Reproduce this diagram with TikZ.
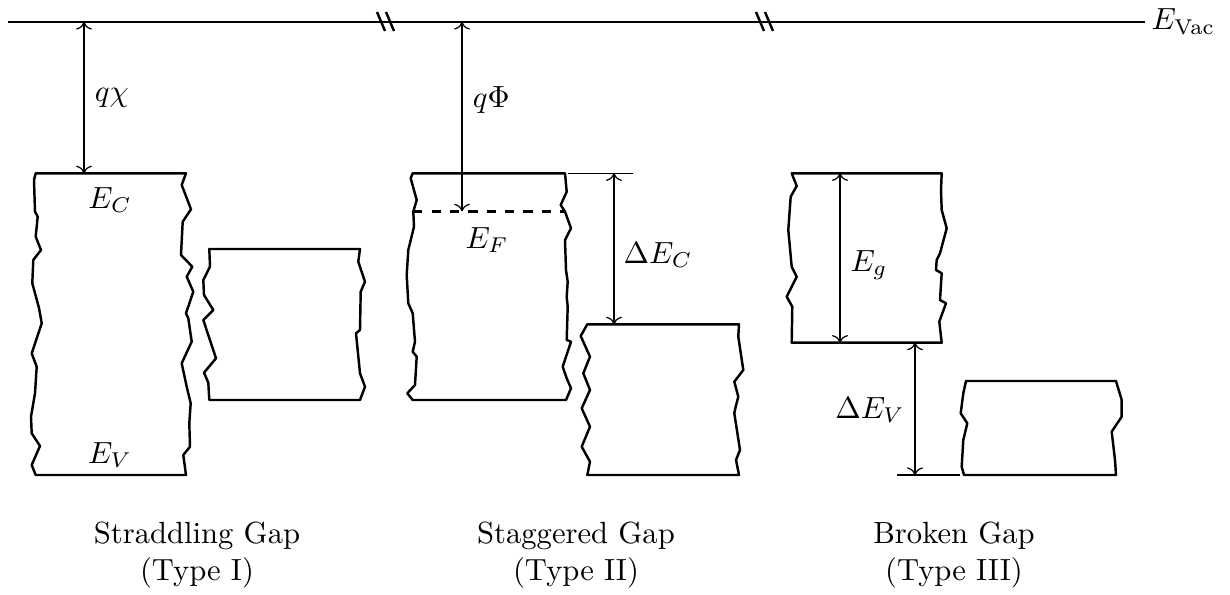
\documentclass[tikz,border=0pt]{standalone}
\usepackage{amsmath,amssymb}
\usepackage{tikz}
\usetikzlibrary{arrows.meta}

\begin{document}
\begin{tikzpicture}[
  x=0.3267pt, y=-0.3267pt,
  band/.style={thick, line join=round},
  vac/.style={thick},
  brk/.style={thick},
  gap/.style={<->, thin},
  ref/.style={thin},
  fermi/.style={thick, dashed},
  caption/.style={align=center}
]
\useasboundingbox (0,0) rectangle (1230,595);

% vacuum level
\coordinate (vacL) at (8,22);
\coordinate (vacR) at (1145,22);
\draw[vac] (vacL) -- (vacR);
\draw[brk] (377,12) -- (385,31) (386,12) -- (394,31);
\draw[brk] (756,12) -- (764,31) (765,12) -- (773,31);
\node[anchor=west, inner sep=2pt] (evac) at (vacR) {$E_{\text{Vac}}$};

% type I
\draw[band] (35.7,173.3) -- (186,173.3) -- (181.7,185) -- (191,209.3) -- (182.7,221.7) -- (181,255) -- (192.3,266.7) -- (186.7,276.7) -- (193.3,291.7) -- (186,313.3) -- (188.3,318.3) -- (191.7,341.7) -- (181.7,363.3) -- (186.7,386.7) -- (190.7,403.3) -- (189.3,423.3) -- (190,446.7) -- (183.3,455) -- (186,475)
  -- (35.7,475) -- (31.7,465) -- (40,446) -- (31.7,433.3) -- (31,416.7) -- (35,393.3) -- (36.7,366.7) -- (31.7,353.3) -- (41.7,323.3) -- (39,308) -- (32.3,283.3) -- (33.3,260) -- (41,250) -- (35.7,236.7) -- (37.7,216.7) -- (35,211.7) -- (34,180) -- cycle;
\draw[band] (209.3,249) -- (360,249) -- (358.3,261.7) -- (365,281.7) -- (360.7,291.7) -- (360,330) -- (356,333.3) -- (360,373.3) -- (365,386.7) -- (360,400)
  -- (209.3,400) -- (208.3,382.7) -- (204,372.7) -- (216,358.3) -- (203.3,320) -- (213.3,310) -- (204,295) -- (203.3,280) -- (210,266.7) -- cycle;
\coordinate (chiTop) at (84,22);
\coordinate (chiBot) at (84,173.3);
\draw[gap] (chiTop) -- (chiBot) node[midway, right=0pt] (qchi) {$q\chi$};
\node (ec) at (110,200) {$E_C$};
\node (ev) at (110,455) {$E_V$};
\node[caption] (cap1) at (197,555) {Straddling Gap\\(Type I)};

% type II
\draw[band] (412.7,173.3) -- (565,173.3) -- (566.7,191.7) -- (560.7,205) -- (565,211.7) -- (571,228.3) -- (565,240) -- (566,270) -- (567.7,281.7) -- (566.7,296.7) -- (567.7,306.7) -- (566.7,340) -- (571,341.7) -- (562.7,366.7) -- (566.7,378.3) -- (571,388.3) -- (566,400)
  -- (412.7,400) -- (407.3,393.3) -- (415,385) -- (416.7,356.7) -- (412.7,351.7) -- (415,341.7) -- (412.7,313.3) -- (408.3,303.3) -- (406.7,275) -- (408.3,250) -- (414,226.7) -- (413.3,211.7) -- (416.7,200) -- (410.7,178.3) -- cycle;
\coordinate (efL) at (413.3,211.3);
\coordinate (efR) at (565,211.3);
\draw[fermi] (efL) -- (efR);
\coordinate (phiTop) at (462,22);
\coordinate (phiBot) at (462,211.3);
\draw[gap] (phiTop) -- (phiBot) node[pos=0.41, right=0pt] (qphi) {$q\Phi$};
\node (ef) at (487,240) {$E_F$};
\draw[band] (587.3,324.3) -- (739,324.3) -- (738.3,336.7) -- (743.3,370) -- (734.3,381.7) -- (738.3,396.7) -- (735.7,406.7) -- (734.3,413.3) -- (740,450) -- (736,460) -- (739,475)
  -- (587.3,475) -- (590,461.7) -- (581.7,446.7) -- (590,426.7) -- (581.7,408.3) -- (590,390) -- (583.3,373.3) -- (590,356.7) -- (580.7,336) -- cycle;
\coordinate (dcTop) at (614,173.3);
\coordinate (dcBot) at (614,324.3);
\draw[ref] (568,173.3) -- (633,173.3);
\draw[gap] (dcTop) -- (dcBot);
\node (dec) at (658,255) {$\Delta E_C$};
\node[caption] (cap2) at (576,555) {Staggered Gap\\(Type II)};

% type III
\draw[band] (791.7,173.3) -- (941.7,173.3) -- (941,190) -- (941.7,210) -- (946.7,228.3) -- (940,253.3) -- (936.7,260) -- (936,270) -- (941.7,273.3) -- (940,300) -- (946,303.3) -- (939.3,321.7) -- (941.7,342.7)
  -- (791.7,342.7) -- (792.3,306.7) -- (786.7,296.7) -- (796.7,276.7) -- (791.7,266.7) -- (788.3,230) -- (790.7,196.7) -- (796.7,186) -- cycle;
\draw[band] (966,381) -- (1116,381) -- (1121.7,400) -- (1121.7,416.7) -- (1111.7,431.7) -- (1115,460) -- (1116,475)
  -- (964,475) -- (961.7,466.7) -- (963.3,440) -- (967.3,423.3) -- (960.7,413.3) -- (963.3,393.3) -- cycle;
\coordinate (egTop) at (840,173.3);
\coordinate (egBot) at (840,342.7);
\draw[gap] (egTop) -- (egBot);
\node (eg) at (869,265) {$E_g$};
\coordinate (dvTop) at (915,342.7);
\coordinate (dvBot) at (915,475);
\draw[ref] (897,475) -- (960,475);
\draw[gap] (dvTop) -- (dvBot);
\node (dev) at (870,410) {$\Delta E_V$};
\node[caption] (cap3) at (954,555) {Broken Gap\\(Type III)};
\end{tikzpicture}
\end{document}
